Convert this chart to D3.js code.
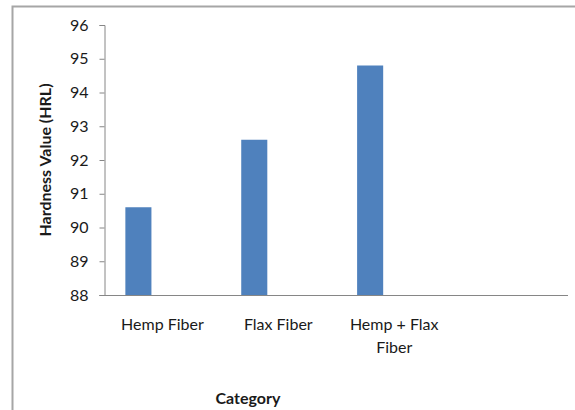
<!DOCTYPE html>
<html>
<head>
<meta charset="utf-8">
<script src="https://cdn.jsdelivr.net/npm/d3@7"></script>
<style>
  html, body { margin: 0; padding: 0; background: #ffffff; }
  svg { display: block; }
  text { font-family: Lato, "Open Sans", sans-serif; fill: #1a1a1a; }
</style>
</head>
<body>
<svg id="chart" width="575" height="410"></svg>
<script>
// Hardness (HRL) by fibre type
const categories = ["Hemp Fiber", "Flax Fiber", "Hemp + Flax Fiber"];
const hardness = [90.6, 92.6, 94.8];
const yTicks = [88, 89, 90, 91, 92, 93, 94, 95, 96];

const svg = d3.select("#chart");

// outer chart frame (runs off the right and bottom edges)
svg.append("path")
  .attr("d", "M12.5,420 L12.5,6.5 L585,6.5")
  .attr("fill", "none")
  .attr("stroke", "#a6a6a6")
  .attr("stroke-width", 2);

const plot = { left: 104.5, right: 568, top: 25, bottom: 295 };
const slot = (plot.right - plot.left) / 4;

const x = d3.scaleBand()
  .domain(categories)
  .range([plot.left, plot.left + slot * categories.length])
  .padding(0);

const y = d3.scaleLinear()
  .domain([88, 96])
  .range([plot.bottom, plot.top]);

// bars
svg.append("g")
  .selectAll("rect")
  .data(categories.map((c, i) => ({ c, v: hardness[i] })))
  .join("rect")
  .attr("x", d => x(d.c) + x.bandwidth() * 0.18)
  .attr("width", x.bandwidth() * 0.225)
  .attr("y", d => y(d.v))
  .attr("height", d => y(88) - y(d.v))
  .attr("fill", "#4f81bd");

// y axis
const yAxis = svg.append("g")
  .attr("transform", `translate(${plot.left},0)`)
  .call(d3.axisLeft(y).tickValues(yTicks).tickSize(5).tickPadding(11).tickFormat(d3.format("d")));
yAxis.select(".domain").attr("stroke", "#868686");
yAxis.selectAll(".tick line").attr("stroke", "#868686");
yAxis.selectAll(".tick text")
  .attr("font-size", 16)
  .attr("font-family", "Lato, sans-serif")
  .attr("fill", "#1a1a1a");

// x axis line spanning the whole plot width
svg.append("line")
  .attr("x1", plot.left - 5).attr("x2", plot.right)
  .attr("y1", plot.bottom + 0.5).attr("y2", plot.bottom + 0.5)
  .attr("stroke", "#868686");

// category labels, wrapped like the source chart
const wrapped = {
  "Hemp Fiber": ["Hemp Fiber"],
  "Flax Fiber": ["Flax Fiber"],
  "Hemp + Flax Fiber": ["Hemp + Flax", "Fiber"]
};
const labels = svg.append("g")
  .selectAll("text")
  .data(categories)
  .join("text")
  .attr("x", d => x(d) + x.bandwidth() / 2)
  .attr("y", 330)
  .attr("text-anchor", "middle")
  .attr("font-size", 16);
labels.selectAll("tspan")
  .data(d => wrapped[d])
  .join("tspan")
  .attr("x", function () { return this.parentNode.getAttribute("x"); })
  .attr("dy", (d, i) => i === 0 ? 0 : 23)
  .text(d => d);

// axis titles
svg.append("text")
  .attr("transform", "translate(51,160) rotate(-90)")
  .attr("text-anchor", "middle")
  .attr("font-size", 16)
  .attr("font-weight", "bold")
  .text("Hardness Value (HRL)");

svg.append("text")
  .attr("x", 248)
  .attr("y", 404)
  .attr("text-anchor", "middle")
  .attr("font-size", 16)
  .attr("font-weight", "bold")
  .text("Category");
</script>
</body>
</html>
